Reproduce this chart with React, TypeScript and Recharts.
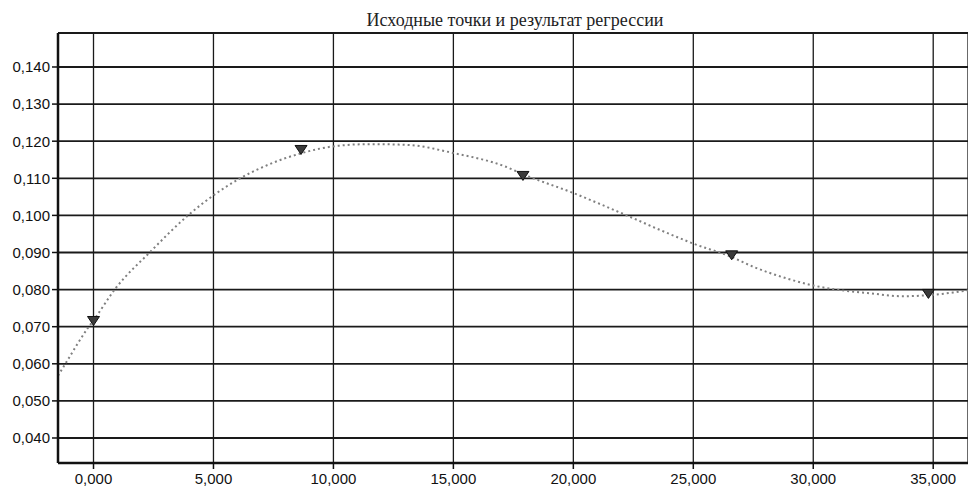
import { CartesianGrid, ComposedChart, Line, ReferenceLine, Scatter, XAxis, YAxis } from 'recharts'

// x in thousands (labels read "5,000" = 5.000)
const pointX = [0, 8.65, 17.9, 26.6, 34.8]
const pointY = [0.0714, 0.1175, 0.1105, 0.0891, 0.0787]

// regression curve
const curveX = [-1.48, -1.09, -0.25, 0, 0.94, 2.34, 3.94, 6.11, 7.3, 8.63, 10.24, 11.5, 13.08, 15.0, 17.19, 17.9, 19.93, 22.4, 23.64, 25.0, 26.55, 27.52, 28.9, 30.0, 30.97, 32.35, 33.74, 34.8, 35.82, 36.45]
const curveY = [0.0568, 0.0609, 0.0695, 0.0717, 0.0805, 0.09, 0.1, 0.11, 0.1137, 0.1167, 0.1188, 0.1192, 0.119, 0.1168, 0.1131, 0.1111, 0.1062, 0.0995, 0.096, 0.0924, 0.0889, 0.0861, 0.083, 0.0811, 0.08, 0.079, 0.0782, 0.0785, 0.0792, 0.0798]

const xTicks = [0, 5, 10, 15, 20, 25, 30, 35]
const yTicks = [0.04, 0.05, 0.06, 0.07, 0.08, 0.09, 0.1, 0.11, 0.12, 0.13, 0.14]

const X_DOMAIN: [number, number] = [-1.48, 36.45]
const Y_DOMAIN: [number, number] = [0.03326, 0.14916]

const xMinor: number[] = []
for (let i = -1; i <= 36; i++) xMinor.push(i)
const yMinor: number[] = []
for (let i = 34; i <= 149; i++) yMinor.push(i / 1000)

const points = pointX.map((x, i) => ({ x, y: pointY[i] }))
const curve = curveX.map((x, i) => ({ x, y: curveY[i] }))

const fmt = (v: number) => v.toFixed(3).replace('.', ',')

const tickFont = { fontSize: 15, fill: '#111', fontFamily: '"Liberation Sans", Arial, sans-serif' }

function DownTriangle(props: any) {
  const { cx, cy } = props
  return (
    <polygon
      points={`${cx - 6},${cy - 5} ${cx + 6},${cy - 5} ${cx},${cy + 4}`}
      fill="#3a3a3a"
      stroke="#111"
      strokeWidth={1}
    />
  )
}

// axis id 0 = minor ticks (zero size, sits on the plot edge), id 1 = main axis
export default function App() {
  return (
    <div style={{ position: 'fixed', left: 0, top: 0, width: 968, height: 503, background: '#fff' }}>
      <div
        style={{
          position: 'absolute',
          left: 0,
          top: 10,
          width: 1030,
          textAlign: 'center',
          fontFamily: '"Liberation Serif", "Times New Roman", serif',
          fontSize: 18,
          color: '#222',
        }}
      >
        Исходные точки и результат регрессии
      </div>
      <ComposedChart width={968} height={503} margin={{ top: 33, right: 0, left: 0, bottom: 0 }}>
        <XAxis
          xAxisId={0}
          type="number"
          domain={X_DOMAIN}
          allowDataOverflow
          ticks={xMinor}
          interval={0}
          tick={false}
          axisLine={false}
          tickSize={5}
          tickLine={{ stroke: '#111', strokeWidth: 1.5 }}
          height={0}
        />
        <YAxis
          yAxisId={0}
          type="number"
          domain={Y_DOMAIN}
          allowDataOverflow
          ticks={yMinor}
          interval={0}
          tick={false}
          axisLine={false}
          tickSize={5}
          tickLine={{ stroke: '#111', strokeWidth: 1.2 }}
          width={0}
        />
        <XAxis
          xAxisId={1}
          dataKey="x"
          type="number"
          domain={X_DOMAIN}
          allowDataOverflow
          ticks={xTicks}
          interval={0}
          tickFormatter={fmt}
          tick={tickFont}
          tickSize={6}
          tickMargin={4}
          axisLine={{ stroke: '#111', strokeWidth: 2.5 }}
          tickLine={{ stroke: '#111', strokeWidth: 1.5 }}
          height={40}
        />
        <YAxis
          yAxisId={1}
          dataKey="y"
          type="number"
          domain={Y_DOMAIN}
          allowDataOverflow
          ticks={yTicks}
          interval={0}
          tickFormatter={fmt}
          tick={tickFont}
          tickSize={6}
          tickMargin={2}
          axisLine={{ stroke: '#111', strokeWidth: 2.5 }}
          tickLine={{ stroke: '#111', strokeWidth: 1.5 }}
          width={58}
        />
        <CartesianGrid xAxisId={1} yAxisId={1} horizontal vertical={false} stroke="#1a1a1a" strokeWidth={1.8} />
        <CartesianGrid xAxisId={1} yAxisId={1} horizontal={false} vertical stroke="#1a1a1a" strokeWidth={1.3} />
        <ReferenceLine xAxisId={1} yAxisId={1} y={Y_DOMAIN[1]} stroke="#1a1a1a" strokeWidth={2} />
        <Line
          xAxisId={1}
          yAxisId={1}
          data={curve}
          dataKey="y"
          type="monotone"
          stroke="#808080"
          strokeWidth={2}
          strokeDasharray="2 3"
          dot={false}
          activeDot={false}
          isAnimationActive={false}
        />
        <Scatter xAxisId={1} yAxisId={1} data={points} dataKey="y" shape={DownTriangle} isAnimationActive={false} />
      </ComposedChart>
    </div>
  )
}
